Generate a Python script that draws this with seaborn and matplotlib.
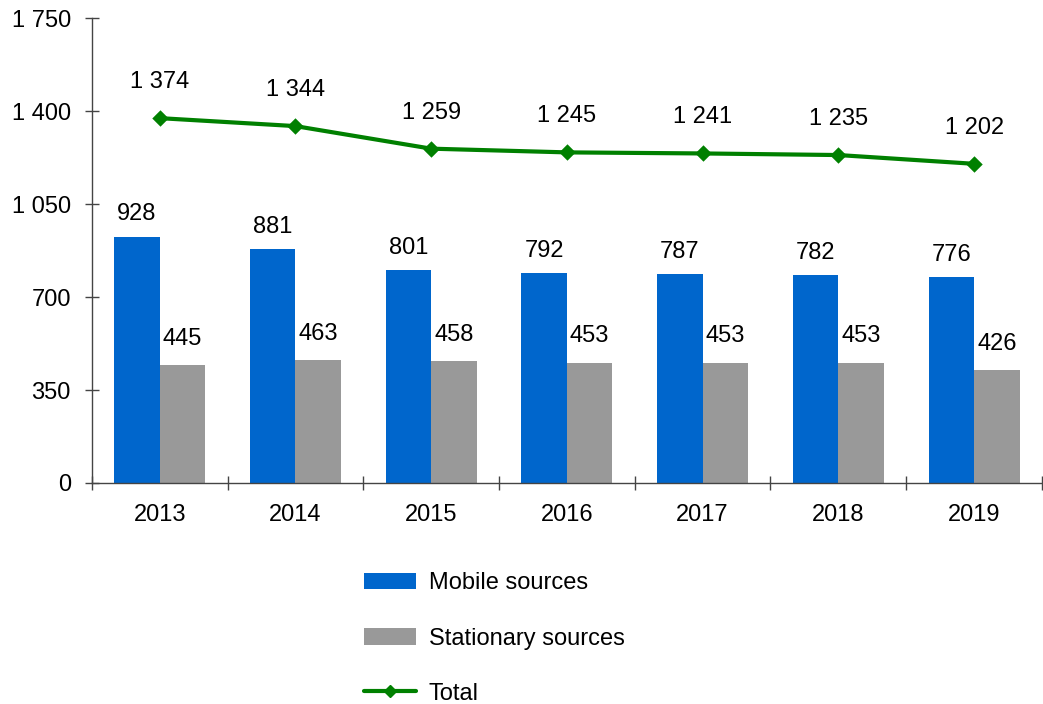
import matplotlib
matplotlib.use("Agg")
import matplotlib.pyplot as plt
import seaborn as sns
import pandas as pd
import numpy as np
from matplotlib.patches import Patch
from matplotlib.lines import Line2D
from matplotlib.ticker import FixedLocator, FuncFormatter

years = ["2013", "2014", "2015", "2016", "2017", "2018", "2019"]
mobile = [928, 881, 801, 792, 787, 782, 776]
stationary = [445, 463, 458, 453, 453, 453, 426]
total = [1374, 1344, 1259, 1245, 1241, 1235, 1202]
series_names = ["Mobile sources", "Stationary sources"]
y_ticks = [0, 350, 700, 1050, 1400, 1750]

c_mobile = "#0066CC"
c_stat = "#999999"
c_total = "#008000"
FS = 17

sns.set_style("white")
plt.rcParams["font.family"] = ["Liberation Sans", "DejaVu Sans"]
plt.rcParams["font.size"] = FS
plt.rcParams["text.color"] = "black"
plt.rcParams["xtick.color"] = "black"
plt.rcParams["ytick.color"] = "black"

df = pd.DataFrame({
    "year": years * 2,
    "value": mobile + stationary,
    "series": [series_names[0]] * len(years) + [series_names[1]] * len(years),
})

fig = plt.figure(figsize=(10.43, 7.04), dpi=100)
ax = fig.add_axes([0.088, 0.314, 0.911, 0.660])

sns.barplot(data=df, x="year", y="value", hue="series", order=years,
            hue_order=series_names, palette=[c_mobile, c_stat],
            width=0.67, saturation=1, ax=ax, legend=False, errorbar=None,
            linewidth=0, edgecolor="none")

for i, cont in enumerate(ax.containers):
    ax.bar_label(cont, labels=[str(v) for v in (mobile if i == 0 else stationary)],
                 padding=8 if i == 0 else 11, fontsize=FS, color="black")

sns.pointplot(x=years, y=total, order=years, color=c_total, markers="D",
              markersize=6, linewidth=3, ax=ax, errorbar=None)

def fmt(v, pos=None):
    return f"{int(v):,}".replace(",", " ")

for i, v in enumerate(total):
    ax.annotate(fmt(v), (i, v), xytext=(0, 26), textcoords="offset points",
                ha="center", va="center", fontsize=FS, color="black")

ax.set_xlim(-0.5, len(years) - 0.5)
ax.set_ylim(0, 1750)
ax.yaxis.set_major_locator(FixedLocator(y_ticks))
ax.yaxis.set_major_formatter(FuncFormatter(fmt))
ax.xaxis.set_minor_locator(FixedLocator(np.arange(-0.5, len(years), 1.0)))
ax.set_xlabel("")
ax.set_ylabel("")

for s in ["top", "right"]:
    ax.spines[s].set_visible(False)
for s in ["left", "bottom"]:
    ax.spines[s].set_color("#444444")
    ax.spines[s].set_linewidth(1.0)

ax.tick_params(axis="y", which="major", direction="inout", length=10,
               width=1, color="#444444", labelcolor="black", pad=10,
               labelsize=FS, left=True)
ax.tick_params(axis="x", which="major", length=0, pad=15, labelsize=FS,
               labelcolor="black")
ax.tick_params(axis="x", which="minor", direction="inout", length=10,
               width=1, color="#444444", bottom=True)

handles = [
    Patch(facecolor=c_mobile, edgecolor="none"),
    Patch(facecolor=c_stat, edgecolor="none"),
    Line2D([0], [0], color=c_total, lw=3, marker="D", markersize=6),
]
fig.legend(handles, ["Mobile sources", "Stationary sources", "Total"],
           loc="center", bbox_to_anchor=(0.474, 0.093), frameon=False,
           fontsize=FS, labelspacing=1.4, handlelength=2.2, handletextpad=0.55)

fig.savefig("out.png", dpi=100)
